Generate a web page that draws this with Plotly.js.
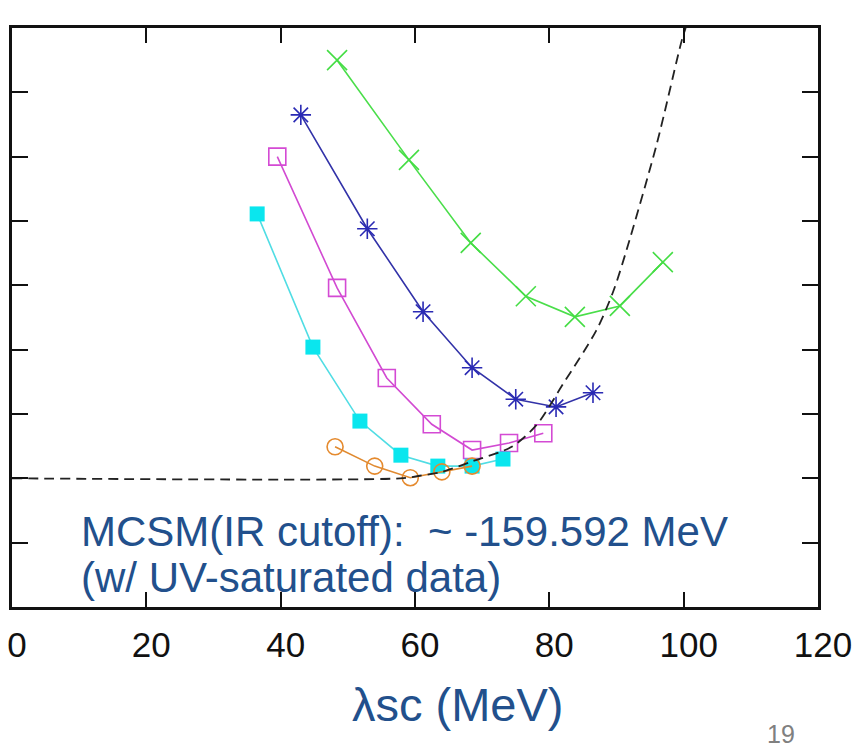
<!DOCTYPE html>
<html>
<head>
<meta charset="utf-8">
<script src="https://cdn.plot.ly/plotly-3.0.1.min.js"></script>
<style>
  html, body { margin: 0; padding: 0; background: #ffffff; }
  #chart { width: 865px; height: 749px; }
</style>
</head>
<body>
<div id="chart"></div>
<script>
// Energy vs. λsc for several cutoff runs (energy axis in tick units, unlabeled)
const xTicks = [0, 20, 40, 60, 80, 100, 120];
const yTicks = [1, 2, 3, 4, 5, 6, 7, 8];

const lamCyan = [36.5, 44.8, 51.8, 57.9, 63.4, 68.5, 73.1];
const eCyan   = [6.11, 4.04, 2.89, 2.36, 2.19, 2.19, 2.30];

const lamMagenta = [39.5, 48.4, 55.8, 62.5, 68.5, 74.0, 79.1];
const eMagenta   = [7.00, 4.96, 3.56, 2.84, 2.44, 2.55, 2.70];

const lamBlue = [43.0, 52.9, 61.2, 68.5, 75.0, 81.0, 86.5];
const eBlue   = [7.65, 5.88, 4.59, 3.72, 3.23, 3.11, 3.33];

const lamGreen = [48.4, 59.1, 68.3, 76.5, 83.8, 90.5, 96.9];
const eGreen   = [8.50, 6.95, 5.66, 4.83, 4.51, 4.68, 5.36];

const lamOrange = [48.1, 54.0, 59.3, 64.0, 68.5];
const eOrange   = [2.49, 2.19, 2.01, 2.10, 2.19];

// IR-cutoff extrapolation curve
const lamFit = [0, 57.8, 60.7, 64.0, 68.4, 74.4, 78.1, 82.0, 87.0, 89.5, 91.5, 96.0, 99.7, 100.3];
const eFit   = [2.0, 2.0, 2.04, 2.10, 2.26, 2.49, 2.83, 3.46, 4.30, 4.90, 5.55, 7.20, 8.80, 9.0];

const textBlue = '#22508c';
const sans = '"Liberation Sans", Arial, Helvetica, sans-serif';

function series(x, y, lineColor, markerColor, symbol, size, filled) {
  return {
    x: x, y: y, type: 'scatter', mode: 'lines+markers',
    line: { color: lineColor, width: 1.6 },
    marker: {
      symbol: symbol, size: size,
      color: markerColor,
      line: { color: markerColor, width: filled ? 0 : 1.6 }
    },
    cliponaxis: false,
    hoverinfo: 'skip'
  };
}

const traces = [
  series(lamGreen, eGreen, '#4ade4a', '#44dd44', 'x-thin-open', 20, false),
  series(lamBlue, eBlue, '#3232a8', '#2a2ab4', 'asterisk-open', 17, false),
  series(lamMagenta, eMagenta, '#d24ad2', '#d44ad4', 'square-open', 17, false),
  series(lamCyan, eCyan, '#50dde4', '#0ae6ee', 'square', 15, true),
  series(lamOrange, eOrange, '#e08a30', '#e58a2e', 'circle-open', 16, false),
  {
    x: lamFit, y: eFit, type: 'scatter', mode: 'lines',
    line: { color: '#222222', width: 1.8, dash: '10px,6px', shape: 'spline', smoothing: 0.8 },
    hoverinfo: 'skip'
  }
];

const layout = {
  width: 865, height: 749,
  margin: { l: 12, r: 47, t: 28, b: 142 },
  paper_bgcolor: '#ffffff',
  plot_bgcolor: '#ffffff',
  showlegend: false,
  xaxis: {
    range: [0, 120],
    tickvals: xTicks,
    ticktext: xTicks.map(String),
    ticks: 'inside', ticklen: 15, tickwidth: 2.2, tickcolor: '#111111',
    showline: true, linecolor: '#111111', linewidth: 3, mirror: 'ticks',
    showgrid: false, zeroline: false,
    tickfont: { family: sans, size: 35, color: '#111111' },
    ticklabelstandoff: 5,
    ticklabelshift: 5
  },
  yaxis: {
    range: [0, 9],
    tickvals: yTicks,
    ticks: 'inside', ticklen: 16, tickwidth: 2.2, tickcolor: '#111111',
    showline: true, linecolor: '#111111', linewidth: 3, mirror: 'ticks',
    showgrid: false, zeroline: false,
    showticklabels: false
  },
  annotations: [
    {
      text: 'MCSM(IR cutoff):  ~ -159.592 MeV',
      xref: 'paper', yref: 'paper', x: 0.0836, y: 0.13,
      xanchor: 'left', yanchor: 'middle', showarrow: false,
      font: { family: sans, size: 42, color: textBlue }
    },
    {
      text: '(w/ UV-saturated data)',
      xref: 'paper', yref: 'paper', x: 0.0836, y: 0.051,
      xanchor: 'left', yanchor: 'middle', showarrow: false,
      font: { family: sans, size: 42, color: textBlue }
    },
    {
      text: 'λsc (MeV)',
      xref: 'paper', yref: 'paper', x: 0.553, y: -0.169,
      xanchor: 'center', yanchor: 'middle', showarrow: false,
      font: { family: sans, size: 47, color: textBlue }
    },
    {
      text: '19',
      xref: 'paper', yref: 'paper', x: 0.954, y: -0.2185,
      xanchor: 'center', yanchor: 'middle', showarrow: false,
      font: { family: sans, size: 25, color: '#808080' }
    }
  ]
};

Plotly.newPlot('chart', traces, layout, { staticPlot: true, displayModeBar: false });
</script>
</body>
</html>
